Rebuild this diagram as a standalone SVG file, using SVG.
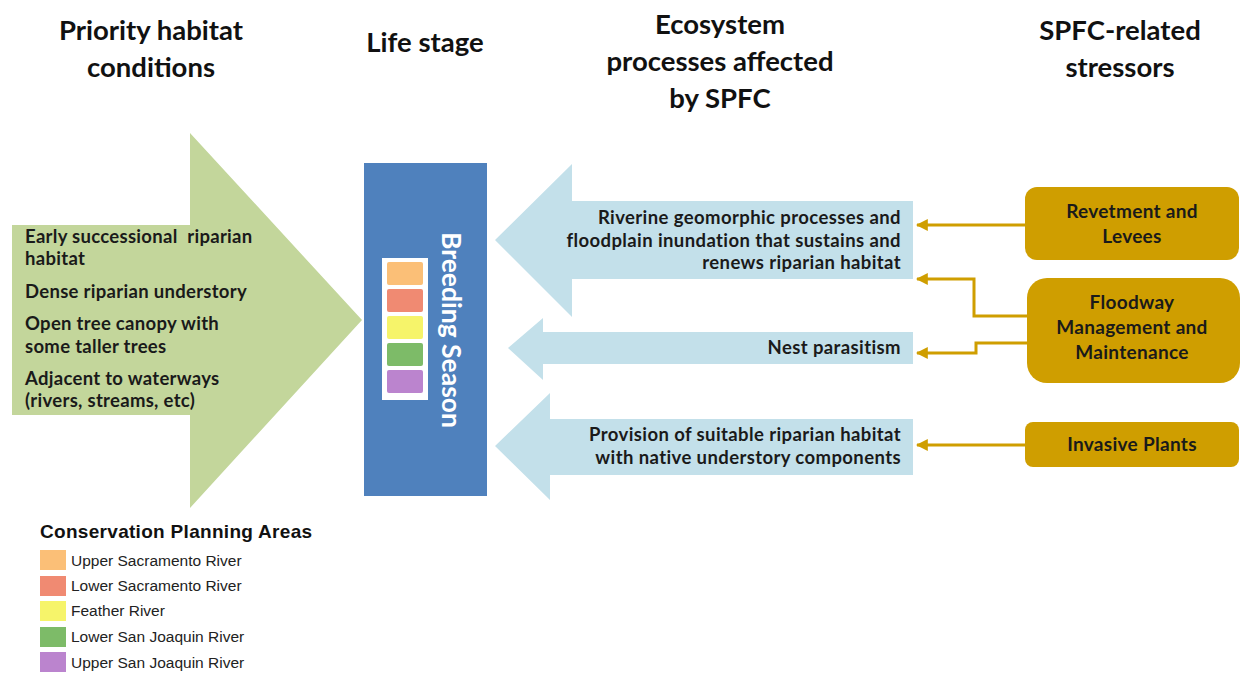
<svg xmlns="http://www.w3.org/2000/svg" width="1254" height="675" viewBox="0 0 1254 675">
  <defs>
    <style>
      .hdr { font-family: Lato, "Open Sans", sans-serif; font-weight: 700; font-size: 27.5px; fill: #111; text-anchor: middle; }
      .body { font-family: Lato, "Open Sans", sans-serif; font-weight: 700; font-size: 18.5px; letter-spacing: 0.3px; fill: #1a1a1a; }
      .proc { font-family: Lato, "Open Sans", sans-serif; font-weight: 700; font-size: 18.5px; letter-spacing: 0.4px; fill: #1a1a1a; text-anchor: end; }
      .stress { font-family: Lato, "Open Sans", sans-serif; font-weight: 700; font-size: 19px; letter-spacing: 0.3px; fill: #1a1a1a; text-anchor: middle; }
      .leg { font-family: "Liberation Sans", Arial, sans-serif; font-size: 15.5px; fill: #222; }
      .legh { font-family: "Liberation Sans", Arial, sans-serif; font-weight: 700; font-size: 19px; letter-spacing: 0.3px; fill: #111; }
      .proc-arrow { fill: #c3e0ea; }
      .stressor { fill: #cf9e00; }
      .link { fill: none; stroke: #cf9e00; stroke-width: 3; }
    </style>
    <marker id="head" viewBox="0 0 10 10" refX="9" refY="5" markerWidth="4" markerHeight="4" orient="auto" markerUnits="strokeWidth">
      <path d="M0,0 L10,5 L0,10 z" fill="#cf9e00"/>
    </marker>
  </defs>

  <rect width="1254" height="675" fill="#ffffff"/>

  <!-- column headings -->
  <g id="headings">
    <text class="hdr" x="151" y="40">Priority habitat</text>
    <text class="hdr" x="151" y="77">conditions</text>
    <text class="hdr" x="425" y="52">Life stage</text>
    <text class="hdr" x="720" y="34">Ecosystem</text>
    <text class="hdr" x="720" y="71">processes affected</text>
    <text class="hdr" x="720" y="108">by SPFC</text>
    <text class="hdr" x="1120" y="40">SPFC-related</text>
    <text class="hdr" x="1120" y="77">stressors</text>
  </g>

  <!-- habitat conditions arrow -->
  <g id="habitat-conditions">
    <path d="M12,225 L190,225 L190,133 L362,320 L190,508 L190,415 L12,415 z" fill="#c3d69b"/>
    <text class="body" x="25" y="243" xml:space="preserve">Early successional  riparian</text>
    <text class="body" x="25" y="265">habitat</text>
    <text class="body" x="25" y="298">Dense riparian understory</text>
    <text class="body" x="25" y="330">Open tree canopy with</text>
    <text class="body" x="25" y="353">some taller trees</text>
    <text class="body" x="25" y="385">Adjacent to waterways</text>
    <text class="body" x="25" y="407">(rivers, streams, etc)</text>
  </g>

  <!-- life stage bar -->
  <g id="life-stage">
    <rect x="364" y="163" width="123" height="333" fill="#4f81bd"/>
    <rect x="382" y="258" width="46" height="142" fill="#ffffff"/>
    <rect x="387" y="262" width="36" height="23" rx="2" fill="#fbbf77"/>
    <rect x="387" y="289" width="36" height="23" rx="2" fill="#f08a72"/>
    <rect x="387" y="316" width="36" height="23" rx="2" fill="#f6f46a"/>
    <rect x="387" y="343" width="36" height="23" rx="2" fill="#7dbb68"/>
    <rect x="387" y="370" width="36" height="23" rx="2" fill="#bb84ce"/>
    <text x="0" y="0" transform="translate(442,330) rotate(90)" font-family="Lato, 'Open Sans', sans-serif" font-weight="700" font-size="26.5" fill="#ffffff" text-anchor="middle">Breeding Season</text>
  </g>

  <!-- ecosystem process arrows -->
  <g id="process-geomorphic">
    <path class="proc-arrow" d="M913,201 L572,201 L572,164 L495,240 L572,317 L572,279 L913,279 z"/>
    <text class="proc" x="901" y="224">Riverine geomorphic processes and</text>
    <text class="proc" x="901" y="247">floodplain inundation that sustains and</text>
    <text class="proc" x="901" y="269">renews riparian habitat</text>
  </g>
  <g id="process-parasitism">
    <path class="proc-arrow" d="M913,332 L543,332 L543,318 L508,348 L543,380 L543,364 L913,364 z"/>
    <text class="proc" x="901" y="354">Nest parasitism</text>
  </g>
  <g id="process-provision">
    <path class="proc-arrow" d="M913,419 L550,419 L550,393 L495,446 L550,500 L550,475 L913,475 z"/>
    <text class="proc" x="901" y="441">Provision of suitable riparian habitat</text>
    <text class="proc" x="901" y="464">with native understory components</text>
  </g>

  <!-- stressors -->
  <g id="stressor-revetment">
    <rect class="stressor" x="1025" y="187" width="214" height="73" rx="12"/>
    <text class="stress" x="1132" y="218">Revetment and</text>
    <text class="stress" x="1132" y="243">Levees</text>
  </g>
  <g id="stressor-floodway">
    <rect class="stressor" x="1027" y="278" width="213" height="105" rx="20"/>
    <text class="stress" x="1132" y="309">Floodway</text>
    <text class="stress" x="1132" y="334">Management and</text>
    <text class="stress" x="1132" y="359">Maintenance</text>
  </g>
  <g id="stressor-invasive">
    <rect class="stressor" x="1025" y="422" width="214" height="45" rx="8"/>
    <text class="stress" x="1132" y="451">Invasive Plants</text>
  </g>

  <!-- connectors from stressors to processes -->
  <g id="connectors">
    <path class="link" d="M1025,225 L917,225" marker-end="url(#head)"/>
    <path class="link" d="M1027,316 L974,316 L974,279 L917,279" marker-end="url(#head)"/>
    <path class="link" d="M1027,343 L976,343 L976,353 L917,353" marker-end="url(#head)"/>
    <path class="link" d="M1025,445 L917,445" marker-end="url(#head)"/>
  </g>

  <!-- legend -->
  <g id="legend">
    <text class="legh" x="40" y="538">Conservation Planning Areas</text>
    <rect x="40" y="550" width="26" height="20" fill="#fbbf77"/>
    <rect x="40" y="576" width="26" height="20" fill="#f08a72"/>
    <rect x="40" y="601" width="26" height="20" fill="#f6f46a"/>
    <rect x="40" y="627" width="26" height="20" fill="#7dbb68"/>
    <rect x="40" y="652" width="26" height="20" fill="#bb84ce"/>
    <text class="leg" x="71" y="566">Upper Sacramento River</text>
    <text class="leg" x="71" y="591">Lower Sacramento River</text>
    <text class="leg" x="71" y="616">Feather River</text>
    <text class="leg" x="71" y="642">Lower San Joaquin River</text>
    <text class="leg" x="71" y="668">Upper San Joaquin River</text>
  </g>
</svg>
